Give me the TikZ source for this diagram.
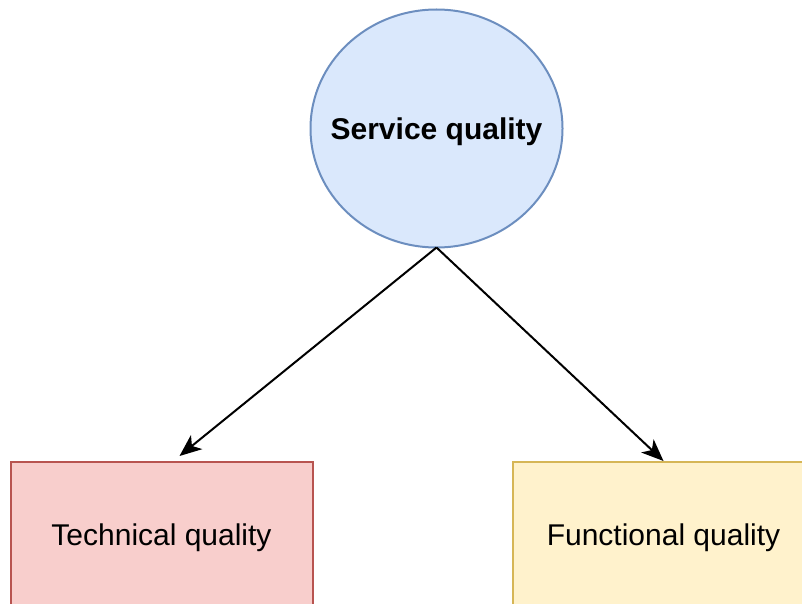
\documentclass[tikz,border=0pt]{standalone}
\usepackage{fontspec}
\setmainfont{Liberation Sans}
\usetikzlibrary{shapes.geometric,arrows.meta,calc}
\definecolor{blueFill}{HTML}{DAE8FC}
\definecolor{blueLine}{HTML}{6C8EBF}
\definecolor{redFill}{HTML}{F8CECC}
\definecolor{redLine}{HTML}{B85450}
\definecolor{yelFill}{HTML}{FFF2CC}
\definecolor{yelLine}{HTML}{D6B656}
\tikzset{
  lbl/.style={font=\fontsize{30}{36}\selectfont, text height=21.6pt, text depth=0pt},
  topic/.style={ellipse, draw=blueLine, fill=blueFill, line width=2pt,
    minimum width=252pt, minimum height=238pt, inner sep=0pt, outer sep=0pt,
    lbl, font=\fontsize{30}{36}\selectfont\bfseries},
  facet/.style={rectangle, line width=2pt, minimum width=302pt,
    minimum height=146pt, inner sep=0pt, outer sep=0pt, lbl},
  link/.style={line width=2pt, -{Stealth[length=22pt, width=18pt, inset=6pt]}}
}
\begin{document}
\begin{tikzpicture}[x=1pt, y=-1pt]
  \useasboundingbox (0,0) rectangle (802,604);
  \clip (0,0) rectangle (802,604);
  \node[topic] (sq) at (436.5,128.5) {\makebox[0pt]{Service quality}};
  \node[facet, draw=redLine, fill=redFill] (tech) at (161.5,535) {Technical quality};
  \node[facet, draw=yelLine, fill=yelFill] (func) at (663.5,535) {Functional quality};
  \coordinate (techTip) at ($(tech.north)+(18,-6)$);
  \coordinate (funcTip) at ($(func.north)+(0,-1)$);
  \draw[link] (sq.south) -- (techTip);
  \draw[link] (sq.south) -- (funcTip);
\end{tikzpicture}
\end{document}
